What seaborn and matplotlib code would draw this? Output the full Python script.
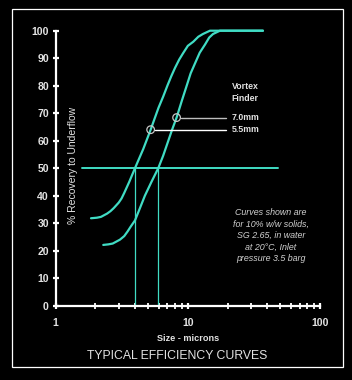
import numpy as np
import pandas as pd
import matplotlib
matplotlib.use("Agg")
import matplotlib.pyplot as plt
import seaborn as sns

# ---- data ----
size_55 = [1.85, 2.05, 2.2, 2.45, 2.6, 2.75, 3.0, 3.15, 3.3, 3.6, 3.98, 4.6, 5.23, 5.6, 6.0,
           6.5, 7.0, 7.5, 8.0, 8.6, 9.2, 10.0, 11.0, 12.0, 13.0, 14.7, 37.0]
rec_55 = [31.8, 32.0, 32.3, 33.5, 34.4, 35.5, 37.5, 39.0, 41.0, 45.0, 50.0, 57.0, 64.0, 68.0, 72.0,
          76.0, 80.0, 83.5, 86.5, 89.5, 91.8, 94.5, 96.0, 97.8, 98.8, 100.0, 100.0]

size_70 = [2.29, 2.5, 2.7, 3.06, 3.3, 3.5, 3.7, 3.98, 4.3, 4.73, 5.3, 5.97, 6.5, 7.0, 7.6, 8.22,
           9.0, 9.8, 10.5, 11.3, 12.3, 13.5, 14.5, 15.5, 17.5, 37.0]
rec_70 = [22.1, 22.3, 22.6, 24.0, 25.3, 27.0, 28.8, 31.0, 35.0, 40.0, 45.0, 50.0, 54.5, 59.0, 64.0, 68.4,
          74.5, 80.0, 84.5, 88.0, 92.0, 95.0, 97.5, 98.8, 100.0, 100.0]

d50_sizes = [3.98, 5.97]          # cut sizes at 50 % recovery
ref_line_x = [1.57, 47.8]         # horizontal 50 % guide
ref_level = 50

marker_sizes = [5.23, 8.22]       # circled points on the curves
marker_recs = [64.0, 68.4]
vortex_labels = ["5.5mm", "7.0mm"]

y_ticks = [0, 10, 20, 30, 40, 50, 60, 70, 80, 90, 100]
x_ticks = [1, 10, 100]
x_tick_labels = ["1", "10", "100"]

note_lines = ["Curves shown are", "for 10% w/w solids,", "SG 2.65, in water",
              "at 20\u00b0C, Inlet", "pressure 3.5 barg"]

# ---- styling ----
sns.set_theme(style="dark")
plt.rcParams["font.family"] = ["Liberation Sans", "DejaVu Sans"]
CYAN = "#40dcc4"
FG = "#e2e2e2"

df = pd.DataFrame({
    "size": size_55 + size_70,
    "recovery": rec_55 + rec_70,
    "vortex": ["5.5mm"] * len(size_55) + ["7.0mm"] * len(size_70),
})

fig = plt.figure(figsize=(3.52, 3.80), dpi=100, facecolor="black")
ax = fig.add_axes([55.7 / 352, 74.3 / 380, (320 - 55.7) / 352, (305.7 - 30.7) / 380])
ax.set_facecolor("black")

sns.lineplot(data=df, x="size", y="recovery", hue="vortex", palette=[CYAN, CYAN],
             estimator=None, sort=False, legend=False, linewidth=1.6, ax=ax, clip_on=False)

ax.set_xscale("log")
ax.set_xlim(1, 100)
ax.set_ylim(0, 100)

# 50 % guide lines
ax.plot(ref_line_x, [ref_level, ref_level], color=CYAN, lw=1.4, clip_on=False)
for xd in d50_sizes:
    ax.plot([xd, xd], [0, ref_level], color=CYAN, lw=0.9)

# circled points and leader lines
leader_end = 19.6
lead_cols = ["#ffffff", "#bdbdbd"]
for xs, ys, lab, lc in zip(marker_sizes, marker_recs, vortex_labels, lead_cols):
    ax.plot([xs * 10 ** (4 / 132.0), leader_end], [ys, ys], color=lc, lw=1.0)
    ax.scatter([xs], [ys], s=30, facecolors="none", edgecolors="#c8c8c8", linewidths=0.9, zorder=5)
    ax.text(21.4, ys, lab, color=FG, fontsize=6.3, fontweight="bold", va="center", ha="left")

ax.text(21.4, 79.6, "Vortex", color=FG, fontsize=6.3, fontweight="bold", va="center", ha="left")
ax.text(21.4, 75.3, "Finder", color=FG, fontsize=6.3, fontweight="bold", va="center", ha="left")

ax.text(0.815, 0.255, "\n".join(note_lines), transform=ax.transAxes, color="#d0d0d0",
        fontsize=6.4, fontstyle="italic", ha="center", va="center", linespacing=1.33)

# axes / spines
for s in ["top", "right"]:
    ax.spines[s].set_visible(False)
for s in ["left", "bottom"]:
    ax.spines[s].set_color("white")
    ax.spines[s].set_linewidth(1.6)
    ax.spines[s].set_zorder(6)
ax.grid(False)

ax.set_yticks(y_ticks)
ax.set_xticks(x_ticks)
ax.set_xticklabels(x_tick_labels)
ax.tick_params(axis="y", direction="inout", length=4.5, width=1.6, color="white",
               labelcolor=FG, labelsize=7.6, pad=2.6, left=True)
ax.tick_params(axis="x", which="major", direction="inout", length=5, width=1.6, color="white",
               labelcolor=FG, labelsize=7.6, pad=6.0, bottom=True)
ax.tick_params(axis="x", which="minor", direction="inout", length=4, width=1.3, color="white",
               bottom=True)
for lab in ax.get_xticklabels() + ax.get_yticklabels():
    lab.set_fontweight("bold")

ax.set_xlabel("Size - microns", color=FG, fontsize=6.6, fontweight="bold", labelpad=5)
ax.set_ylabel("% Recovery to Underflow", color=FG, fontsize=7.5)
ax.yaxis.set_label_coords(0.085, 0.51)

fig.text(177 / 352, 1 - 355.7 / 380, "TYPICAL EFFICIENCY CURVES", color=FG,
         fontsize=8.8, ha="center", va="center")

# white frame
fig.patches.append(plt.Rectangle((12.3 / 352, 1 - 366.7 / 380), (342.7 - 12.3) / 352,
                                 (366.7 - 9.3) / 380, transform=fig.transFigure,
                                 fill=False, edgecolor="white", linewidth=0.9))

fig.savefig("out.png", dpi=100, facecolor="black")
